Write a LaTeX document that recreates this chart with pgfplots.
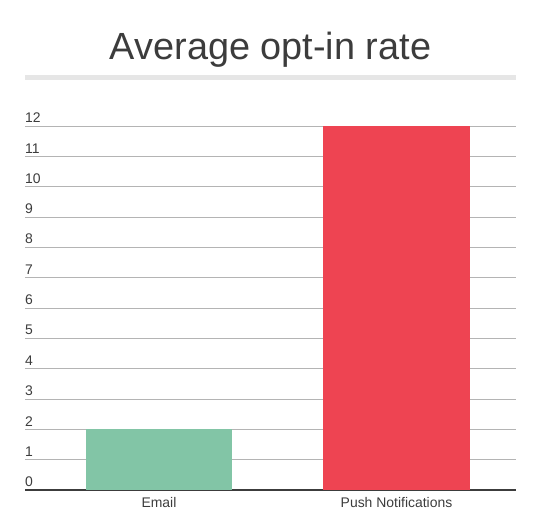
\documentclass[border=0pt]{standalone}
\usepackage{fontspec}
\setmainfont{Liberation Sans}
\usepackage{pgfplots}
\pgfplotsset{compat=1.18}
\definecolor{txt}{HTML}{3C3C3C}
\definecolor{gridc}{HTML}{B4B4B4}
\definecolor{rulec}{HTML}{E6E6E6}
\definecolor{emailc}{HTML}{82C5A6}
\definecolor{pushc}{HTML}{EE4452}
\begin{document}
\begin{tikzpicture}
% page = 541 x 518, axis corner at pixel (25,490)
\path[use as bounding box] (-25bp,-28bp) rectangle (516bp,490bp);
\begin{axis}[
    name=ax,
    at={(0,0)}, anchor=south west,
    scale only axis,
    width=491bp, height=364bp,
    xmin=-0.564, xmax=1.503,
    ymin=0, ymax=12,
    ytick={0,...,12},
    xtick={0,1},
    xticklabels={Email, Push Notifications},
    axis x line*=bottom,
    axis y line*=left,
    x axis line style={draw=txt, line width=1.4bp, -},
    y axis line style={draw=none},
    major tick length=0pt,
    ymajorgrids=true,
    grid style={draw=gridc, line width=0.9bp},
    ybar, bar width=0.615,
    tick label style={font=\fontsize{14}{16}\selectfont, text=txt},
    /pgf/number format/assume math mode=true,
    yticklabel style={anchor=south west, inner sep=0pt, xshift=0bp, yshift=3bp},
    xticklabel style={anchor=north, inner sep=0pt, yshift=-7bp},
    clip=false,
]
\addplot[draw=none, fill=emailc, bar shift=0pt] coordinates {(0,2)};
\addplot[draw=none, fill=pushc, bar shift=0pt] coordinates {(1,12)};
\end{axis}
\fill[rulec] (0,410bp) rectangle (491bp,415bp);
\node[font=\fontsize{38}{40}\selectfont, text=txt, anchor=base] at (245.5bp,430bp) {Average opt-in rate};
\end{tikzpicture}
\end{document}
